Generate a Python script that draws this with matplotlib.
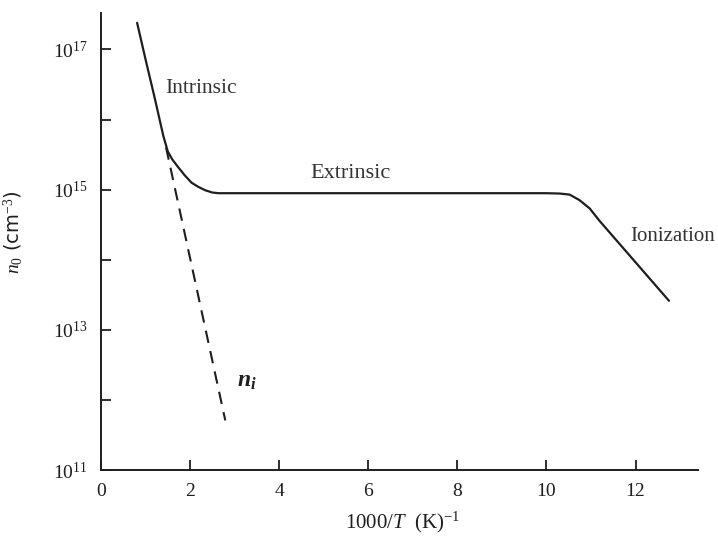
import matplotlib
matplotlib.use("Agg")
import matplotlib.pyplot as plt
from matplotlib.ticker import FixedLocator, NullFormatter

plt.rcParams["font.family"] = ["Liberation Serif", "DejaVu Serif"]
plt.rcParams["mathtext.fontset"] = "custom"
plt.rcParams["mathtext.rm"] = "Liberation Serif"
plt.rcParams["mathtext.it"] = "Liberation Serif:italic"
plt.rcParams["mathtext.bf"] = "Liberation Serif:bold"
plt.rcParams["mathtext.bfit"] = "Liberation Serif:italic:bold"

# Electron concentration vs inverse temperature (n-type semiconductor)
inv_T = [0.81, 1.00, 1.20, 1.40, 1.50, 1.60, 1.73, 1.88, 2.03, 2.18, 2.34,
         2.50, 2.64, 4.0, 6.0, 8.0, 10.0, 10.30, 10.52, 10.74, 10.97, 11.19,
         12.75]
n0 = [2.4e17, 7.2e16, 2.1e16, 5.8e15, 3.5e15, 2.7e15, 2.1e15, 1.6e15,
      1.26e15, 1.1e15, 9.8e14, 9.1e14, 8.9e14, 8.9e14, 8.9e14, 8.9e14,
      8.9e14, 8.8e14, 8.5e14, 7.1e14, 5.4e14, 3.6e14, 2.6e13]

# Intrinsic carrier concentration (dashed)
inv_T_ni = [1.46, 2.79]
ni = [4.0e15, 5.1e11]

x_ticks = [0, 2, 4, 6, 8, 10, 12]
y_major = [1e11, 1e13, 1e15, 1e17]
y_minor = [1e12, 1e14, 1e16]

ink = "#1e1e1e"

fig = plt.figure(figsize=(7.18, 5.36), dpi=100)
ax = fig.add_axes([0.1407, 0.1231, 0.972 - 0.1407, 0.9757 - 0.1231])

ax.plot(inv_T, n0, color=ink, lw=1.6, solid_capstyle="round")
ax.plot(inv_T_ni, ni, color=ink, lw=1.5, dashes=(6, 4))

ax.set_yscale("log")
ax.set_xlim(0, 13.4)
ax.set_ylim(1e11, 10 ** 17.52)

for side in ("top", "right"):
    ax.spines[side].set_visible(False)
for side in ("left", "bottom"):
    ax.spines[side].set_linewidth(1.4)
    ax.spines[side].set_color(ink)

ax.set_xticks(x_ticks)
ax.set_xticklabels([str(v) for v in x_ticks])
ax.yaxis.set_major_locator(FixedLocator(y_major))
ax.yaxis.set_minor_locator(FixedLocator(y_minor))
ax.yaxis.set_minor_formatter(NullFormatter())
ax.set_yticklabels([r"$10^{%d}$" % e for e in (11, 13, 15, 17)])
ax.xaxis.set_minor_locator(FixedLocator([]))

ax.tick_params(axis="both", which="both", direction="in", length=7.5,
               width=1.3, color=ink, labelsize=14, labelcolor=ink)
ax.tick_params(axis="y", pad=9.5)
ax.tick_params(axis="x", pad=9)

ax.set_xlabel(r"1000/$T$  (K)$^{-1}$", fontsize=15, color=ink)
ax.xaxis.set_label_coords(0.505, -0.088)
ax.set_ylabel(r"$n_0$ (cm$^{-3}$)", fontsize=14, color=ink,
              family=["DejaVu Sans"])
ax.yaxis.set_label_coords(-0.128, 0.52)

ax.text(1.45, 10 ** 16.44, "Intrinsic", fontsize=15.5, color="#333333",
        va="center", ha="left")
ax.text(4.7, 10 ** 15.23, "Extrinsic", fontsize=16, color="#333333",
        va="center", ha="left")
ax.text(11.88, 10 ** 14.33, "Ionization", fontsize=15, color="#333333",
        va="center", ha="left", clip_on=False)
ax.text(3.05, 10 ** 12.26, r"$\mathbfit{n_i}$", fontsize=17,
        color=ink, va="center", ha="left")

fig.savefig("out.png", dpi=100)
